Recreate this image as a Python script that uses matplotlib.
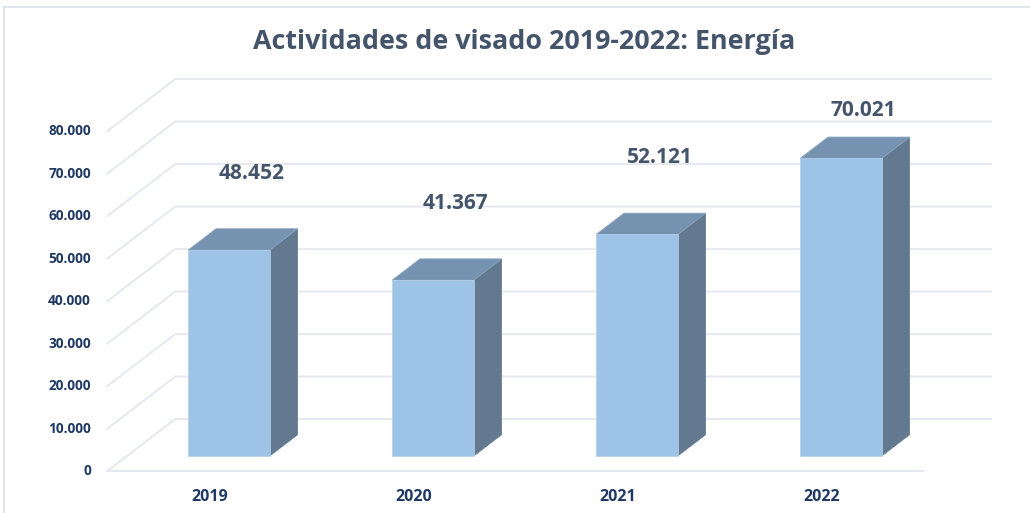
import matplotlib
matplotlib.use("Agg")
import matplotlib.pyplot as plt
from matplotlib.patches import Polygon, Rectangle

# data
years = ["2019", "2020", "2021", "2022"]
visados = [48452, 41367, 52121, 70021]
y_ticks = [0, 10000, 20000, 30000, 40000, 50000, 60000, 70000, 80000]
y_tick_labels = ["0", "10.000", "20.000", "30.000", "40.000",
                 "50.000", "60.000", "70.000", "80.000"]
title = "Actividades de visado 2019-2022: Energía"

# fake 3D geometry (in category / value units)
DX, DY = 0.333, 12235      # full depth offset of the box
D_BAR = 0.29               # depth of the bar front plane
BAR_DEPTH = 0.41
BAR_W = 0.40
X0, X1 = -0.5, 3.5

FRONT = "#9dc3e6"
TOP = "#7592b1"
SIDE = "#63798f"
GRID = "#e6e8ef"
NAVY = "#1f3864"
SLATE = "#44546a"


def proj(x, v, d):
    """Map a point at depth d (0 front, 1 back) to 2D data coords."""
    return x + (d - D_BAR) * DX, v + (d - D_BAR) * DY


fig = plt.figure(figsize=(10.30, 5.13), dpi=100)
ax = fig.add_axes([0, 0, 1, 1])
ax.set_xlim(-1.1225, 3.9265)
ax.set_ylim(-13412, 107294)
ax.axis("off")

# figure border (left and top only visible)
fig.add_artist(plt.Line2D([0.004, 0.004], [0, 0.986], color="#dcdfe8", lw=1.2))
fig.add_artist(plt.Line2D([0.004, 1], [0.986, 0.986], color="#dcdfe8", lw=1.2))

# walls gridlines
for v in y_ticks:
    pts = [proj(X0, v, 0), proj(X0, v, 1), proj(X1, v, 1)]
    ax.plot([p[0] for p in pts], [p[1] for p in pts], color=GRID, lw=1.4,
            zorder=1, solid_joinstyle="miter")
# floor front edge
pts = [proj(X0, 0, 0), proj(X1, 0, 0)]
ax.plot([p[0] for p in pts], [p[1] for p in pts], color=GRID, lw=1.4, zorder=1)

# bars
for i, v in enumerate(visados):
    xl = i - BAR_W / 2
    xr = i + BAR_W / 2
    d0, d1 = D_BAR, D_BAR + BAR_DEPTH
    side = [proj(xr, 0, d0), proj(xr, 0, d1), proj(xr, v, d1), proj(xr, v, d0)]
    top = [proj(xl, v, d0), proj(xl, v, d1), proj(xr, v, d1), proj(xr, v, d0)]
    ax.add_patch(Polygon(side, closed=True, fc=SIDE, ec=SIDE, lw=0.5, zorder=3))
    ax.add_patch(Polygon(top, closed=True, fc=TOP, ec="#8aa3bf", lw=0.6, zorder=3))
    ax.add_patch(Rectangle((xl, 0), BAR_W, v, fc=FRONT, ec="#b4d0ea", lw=0.5, zorder=4))

    # value label
    ly = min(v + 18100, 81400)
    ax.text(i + 0.11, ly, f"{v:,}".replace(",", "."), ha="center", va="center",
            fontsize=15, fontweight="bold", color=SLATE, family="Open Sans", zorder=5)

# y tick labels on the front plane
for v, lab in zip(y_ticks, y_tick_labels):
    x, y = proj(X0, v, 0)
    ax.text(x - 0.08, y, lab, ha="right", va="center", fontsize=9.8,
            fontweight="bold", color=NAVY, family="Open Sans")

# category labels
for i, lab in enumerate(years):
    x, y = proj(i, 0, 0)
    ax.text(x, y - 6000, lab, ha="center", va="center", fontsize=11.5,
            fontweight="bold", color=NAVY, family="Open Sans")

fig.text(0.509, 0.918, title, ha="center", va="center", fontsize=19.4,
         fontweight="bold", color=SLATE, family="Open Sans")

fig.savefig("out.png", dpi=100)
